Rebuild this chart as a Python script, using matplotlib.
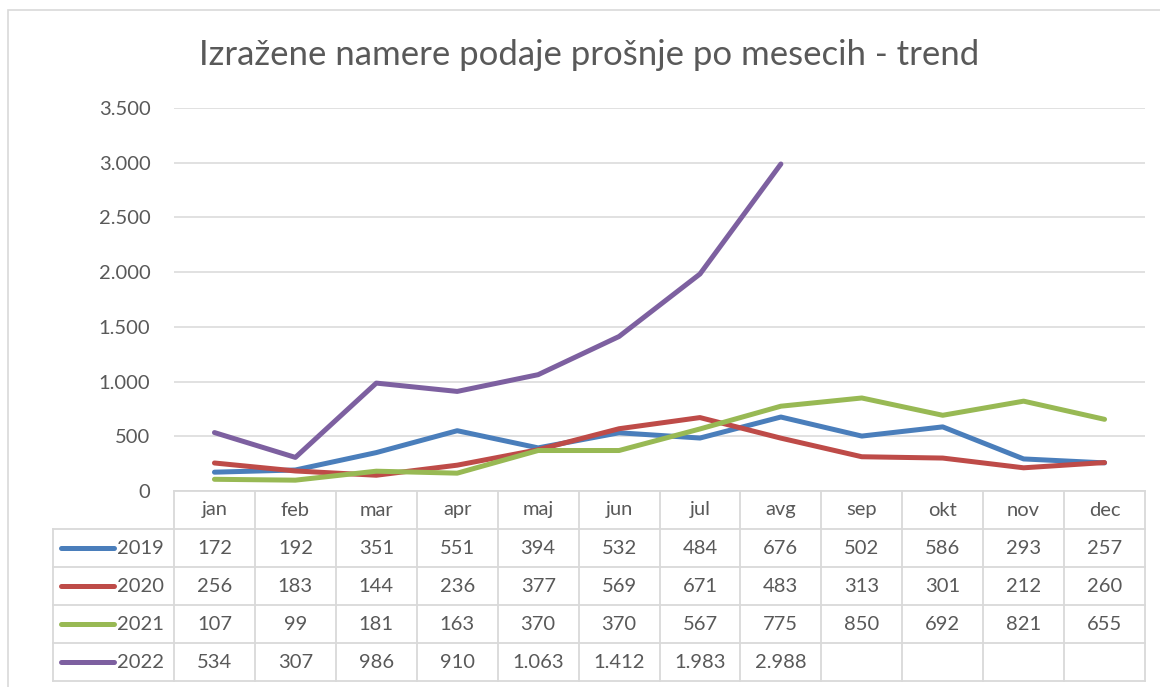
import matplotlib.pyplot as plt
from matplotlib.patches import Rectangle

months = ['jan', 'feb', 'mar', 'apr', 'maj', 'jun', 'jul', 'avg', 'sep', 'okt', 'nov', 'dec']
years = ['2019', '2020', '2021', '2022']
v2019 = [172, 192, 351, 551, 394, 532, 484, 676, 502, 586, 293, 257]
v2020 = [256, 183, 144, 236, 377, 569, 671, 483, 313, 301, 212, 260]
v2021 = [107, 99, 181, 163, 370, 370, 567, 775, 850, 692, 821, 655]
v2022 = [534, 307, 986, 910, 1063, 1412, 1983, 2988]
colors = ['#4a7ebb', '#be4b48', '#98b954', '#7d60a0']
yticks = [0, 500, 1000, 1500, 2000, 2500, 3000, 3500]

plt.rcParams['font.family'] = ['Lato', 'DejaVu Sans']
TXT = '#595959'
GRID = '#d9d9d9'
W, H = 1160, 687
FS = 14.5


def fmt(v):
    return f'{v:,}'.replace(',', '.')


fig = plt.figure(figsize=(W / 100, H / 100), dpi=100)
fig.patches.append(Rectangle((8 / W, -0.01), 1.2, (H - 10) / H + 0.01, transform=fig.transFigure,
                             fill=False, edgecolor=GRID, linewidth=1.2))

x0, x1 = 174, 1145
ytop, y0 = 108, 491
ax = fig.add_axes([x0 / W, (H - y0) / H, (x1 - x0) / W, (y0 - ytop) / H])
series = [v2019, v2020, v2021, v2022]
for vals, c in zip(series, colors):
    ax.plot(range(len(vals)), vals, color=c, linewidth=3.6, solid_capstyle='round', solid_joinstyle='round')
ax.set_xlim(-0.5, 11.5)
ax.set_ylim(0, 3500)
ax.set_yticks(yticks)
ax.set_yticklabels([fmt(t) for t in yticks], fontsize=FS, color=TXT)
ax.set_xticks([])
ax.tick_params(axis='y', length=0, pad=17)
ax.grid(axis='y', color=GRID, linewidth=1.1)
ax.set_axisbelow(True)
for s in ax.spines.values():
    s.set_visible(False)

fig.text(0.508, (H - 55) / H, 'Izražene namere podaje prošnje po mesecih - trend',
         ha='center', va='center', fontsize=25, color=TXT)

# data table under the plot
tx0, ty1 = 53, 681
tab = fig.add_axes([tx0 / W, (H - ty1) / H, (x1 - tx0) / W, (ty1 - y0) / H])
tab.set_xlim(tx0, x1)
tab.set_ylim(ty1, y0)
tab.axis('off')
colw = (x1 - x0) / 12
rowh = (ty1 - y0) / 5
kw = dict(color=GRID, linewidth=1.3, clip_on=False)
# horizontal lines
tab.plot([x0, x1], [y0, y0], **kw)
for r in range(1, 6):
    tab.plot([tx0, x1], [y0 + r * rowh] * 2, **kw)
# vertical lines
tab.plot([tx0, tx0], [y0 + rowh, ty1], **kw)
for c in range(13):
    tab.plot([x0 + c * colw] * 2, [y0, ty1], **kw)
for i, m in enumerate(months):
    tab.text(x0 + (i + 0.5) * colw, y0 + 0.5 * rowh, m, ha='center', va='center', fontsize=FS, color=TXT)
for r, (yr, vals, c) in enumerate(zip(years, series, colors)):
    yc = y0 + (r + 1.5) * rowh
    tab.plot([61, 114], [yc, yc], color=c, linewidth=3.6, solid_capstyle='round', clip_on=False)
    tab.text(117, yc, yr, ha='left', va='center', fontsize=FS, color=TXT)
    for i, v in enumerate(vals):
        tab.text(x0 + (i + 0.5) * colw, yc, fmt(v), ha='center', va='center', fontsize=FS, color=TXT)

fig.savefig('out.png', dpi=100)
